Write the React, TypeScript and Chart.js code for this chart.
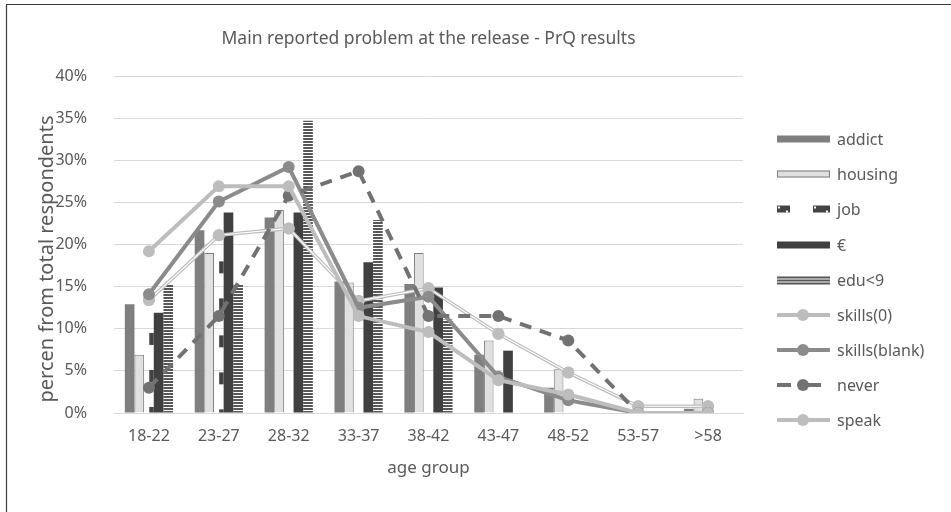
import React, { useEffect, useRef } from 'react';
import { Chart, registerables } from 'chart.js';

Chart.register(...registerables);

const categories = ['18-22', '23-27', '28-32', '33-37', '38-42', '43-47', '48-52', '53-57', '>58'];
const addict = [12.9, 21.7, 23.2, 15.6, 15.3, 6.9, 3.0, 0, 0.5];
const housing = [6.9, 19.0, 24.1, 15.5, 19.0, 8.6, 5.2, 0, 1.7];
const job = [9.5, 18.0, 0, 0, 0, 0, 0, 0, 0];
const euro = [11.9, 23.8, 23.8, 17.9, 14.9, 7.4, 0, 0, 0];
const edu9 = [15.2, 15.2, 34.7, 22.9, 11.1, 0, 0, 0, 0];
const skills0 = [13.4, 21.1, 21.9, 13.3, 14.8, 9.4, 4.8, 0.8, 0.8];
const skillsBlank = [14.1, 25.1, 29.2, 12.5, 13.8, 4.3, 1.5, 0, 0];
const never = [3.0, 11.5, 25.8, 28.7, 11.5, 11.5, 8.6, 0, 0];
const speak = [19.2, 26.9, 26.9, 11.5, 9.6, 3.9, 2.2, 0, 0];

const legendLabels = ['addict', 'housing', 'job', '€', 'edu<9', 'skills(0)', 'skills(blank)', 'never', 'speak'];
const yTicks = [0, 5, 10, 15, 20, 25, 30, 35, 40];

const TITLE = 'Main reported problem at the release - PrQ results';
const Y_TITLE = 'percen from total respondents';
const X_TITLE = 'age group';

const FONT = "'Noto Sans', sans-serif";
const TEXT = '#595959';
const C_ADDICT = '#7f7f7f';
const C_HOUSING = '#e0e0e0';
const C_EURO = '#404040';
const C_STRIPE = '#575757';
const C_LIGHT = '#bdbdbd';
const C_BLANK = '#8b8b8b';
const C_NEVER = '#727272';
const C_JOB = '#444444';

function stripePattern(ctx: CanvasRenderingContext2D) {
  const c = document.createElement('canvas');
  c.width = 4;
  c.height = 3;
  const g = c.getContext('2d')!;
  g.fillStyle = '#ffffff';
  g.fillRect(0, 0, 4, 3);
  g.fillStyle = C_STRIPE;
  g.fillRect(0, 0, 4, 2);
  return ctx.createPattern(c, 'repeat')!;
}

export default function App() {
  const ref = useRef<HTMLCanvasElement | null>(null);

  useEffect(() => {
    const canvas = ref.current!;
    const ctx0 = canvas.getContext('2d')!;
    const stripes = stripePattern(ctx0);

    const JOB_INDEX = 2;
    const SKILLS0_INDEX = 5;

    const decor = {
      id: 'decor',
      afterDatasetDraw(chart: any, args: any) {
        const ctx = chart.ctx as CanvasRenderingContext2D;
        const meta = chart.getDatasetMeta(args.index);
        if (args.index === JOB_INDEX) {
          ctx.save();
          ctx.fillStyle = C_JOB;
          meta.data.forEach((el: any) => {
            const p = el.getProps(['x', 'y', 'base', 'width'], true);
            if (p.base - p.y < 1) return;
            const right = p.x + p.width / 2;
            const w = 4.5;
            for (let t = p.y; t < p.base; t += 37) {
              const h = Math.min(12, p.base - t);
              ctx.fillRect(right - w, t, w, h);
            }
          });
          ctx.restore();
        }
        if (args.index === SKILLS0_INDEX) {
          const pts = meta.data.map((el: any) => el.getProps(['x', 'y'], true));
          ctx.save();
          ctx.strokeStyle = '#ffffff';
          ctx.lineWidth = 1.2;
          ctx.beginPath();
          pts.forEach((p: any, i: number) => (i === 0 ? ctx.moveTo(p.x, p.y) : ctx.lineTo(p.x, p.y)));
          ctx.stroke();
          ctx.fillStyle = C_LIGHT;
          pts.forEach((p: any) => {
            ctx.beginPath();
            ctx.arc(p.x, p.y, 6, 0, Math.PI * 2);
            ctx.fill();
          });
          ctx.restore();
        }
      },
      afterDraw(chart: any) {
        const ctx = chart.ctx as CanvasRenderingContext2D;
        const area = chart.chartArea;
        ctx.save();
        // frame
        ctx.strokeStyle = '#3a3a3a';
        ctx.lineWidth = 1.2;
        ctx.beginPath();
        ctx.moveTo(6.5, 512);
        ctx.lineTo(6.5, 4.5);
        ctx.lineTo(951, 4.5);
        ctx.stroke();

        // title
        ctx.fillStyle = TEXT;
        ctx.textAlign = 'center';
        ctx.textBaseline = 'alphabetic';
        ctx.font = `17.5px ${FONT}`;
        ctx.fillText(TITLE, (area.left + area.right) / 2, 44);

        // x title
        ctx.font = `17px ${FONT}`;
        ctx.fillText(X_TITLE, (area.left + area.right) / 2, 473);

        // y title
        ctx.save();
        ctx.translate(47, 259);
        ctx.rotate(-Math.PI / 2);
        ctx.textBaseline = 'middle';
        ctx.font = `20px ${FONT}`;
        ctx.fillText(Y_TITLE, 0, 0);
        ctx.restore();

        // legend
        const x0 = 777;
        const x1 = 830;
        const tx = 837;
        const rows = [139, 174, 209, 245, 280, 315, 350, 385, 420];
        ctx.font = `16px ${FONT}`;
        ctx.textAlign = 'left';
        ctx.textBaseline = 'middle';
        rows.forEach((ry, i) => {
          ctx.fillStyle = TEXT;
          ctx.fillText(legendLabels[i], tx, ry + 1);
          const h = 7;
          if (i === 0) {
            ctx.fillStyle = C_ADDICT;
            ctx.fillRect(x0, ry - h / 2, x1 - x0, h);
          } else if (i === 1) {
            ctx.fillStyle = C_HOUSING;
            ctx.fillRect(x0, ry - h / 2, x1 - x0, h);
            ctx.strokeStyle = C_ADDICT;
            ctx.lineWidth = 1;
            ctx.strokeRect(x0 + 0.5, ry - h / 2 + 0.5, x1 - x0 - 1, h - 1);
          } else if (i === 2) {
            ctx.fillStyle = C_JOB;
            ctx.fillRect(x0, ry - h / 2, 13, h);
            ctx.fillRect(x1 - 17, ry - h / 2, 17, h);
            ctx.fillStyle = '#ffffff';
            ctx.fillRect(x0 + 1, ry - h / 2 + 1, 2, 2);
            ctx.fillRect(x1 - 16, ry - h / 2 + 1, 2, 2);
            ctx.fillRect(x0 + 9, ry + h / 2 - 2, 2, 2);
            ctx.fillRect(x1 - 4, ry + h / 2 - 2, 2, 2);
          } else if (i === 3) {
            ctx.fillStyle = C_EURO;
            ctx.fillRect(x0, ry - h / 2, x1 - x0, h);
          } else if (i === 4) {
            ctx.fillStyle = C_STRIPE;
            for (let k = 0; k < 3; k++) ctx.fillRect(x0, ry - 3.5 + k * 3, x1 - x0, 2);
          } else {
            const col = i === 6 ? C_BLANK : i === 7 ? C_NEVER : C_LIGHT;
            ctx.strokeStyle = col;
            ctx.fillStyle = col;
            ctx.lineWidth = 4;
            ctx.lineCap = 'butt';
            ctx.beginPath();
            if (i === 7) {
              ctx.moveTo(x0, ry);
              ctx.lineTo(x0 + 14, ry);
              ctx.moveTo(x0 + 31, ry);
              ctx.lineTo(x0 + 44, ry);
            } else {
              ctx.moveTo(x0, ry);
              ctx.lineTo(x1, ry);
            }
            ctx.stroke();
            ctx.beginPath();
            ctx.arc(x0 + 26, ry, 6, 0, Math.PI * 2);
            ctx.fill();
          }
        });
        ctx.restore();
      },
    };

    const barCommon = {
      type: 'bar' as const,
      categoryPercentage: 0.69,
      barPercentage: 1,
      order: 10,
      borderWidth: 0,
    };
    const lineCommon = {
      type: 'line' as const,
      tension: 0,
      fill: false,
      pointRadius: 6,
      pointBorderWidth: 0,
      borderWidth: 4,
    };

    const chart = new Chart(canvas, {
      data: {
        labels: categories,
        datasets: [
          { ...barCommon, label: 'addict', data: addict, backgroundColor: C_ADDICT },
          { ...barCommon, label: 'housing', data: housing, backgroundColor: C_HOUSING, borderColor: C_ADDICT, borderWidth: 1 },
          { ...barCommon, label: 'job', data: job, backgroundColor: 'rgba(255,255,255,0)' },
          { ...barCommon, label: '€', data: euro, backgroundColor: C_EURO },
          { ...barCommon, label: 'edu<9', data: edu9, backgroundColor: stripes },
          { ...lineCommon, label: 'skills(0)', data: skills0, borderColor: C_LIGHT, backgroundColor: C_LIGHT, borderWidth: 3.6, order: 4 },
          { ...lineCommon, label: 'skills(blank)', data: skillsBlank, borderColor: C_BLANK, backgroundColor: C_BLANK, order: 3 },
          { ...lineCommon, label: 'never', data: never, borderColor: C_NEVER, backgroundColor: C_NEVER, borderDash: [12, 9], order: 2 },
          { ...lineCommon, label: 'speak', data: speak, borderColor: C_LIGHT, backgroundColor: C_LIGHT, order: 1 },
        ],
      } as any,
      options: {
        responsive: false,
        animation: false,
        events: [],
        layout: { padding: { top: 76, right: 208, left: 0, bottom: 0 } },
        plugins: {
          legend: { display: false },
          title: { display: false },
          tooltip: { enabled: false },
        },
        scales: {
          x: {
            grid: { display: false, drawTicks: false },
            border: { display: true, color: '#d9d9d9', width: 1 },
            ticks: { color: TEXT, font: { family: FONT, size: 16 }, padding: 14, maxRotation: 0, autoSkip: false },
            afterFit: (s: any) => {
              s.height = 512 - 413;
            },
          },
          y: {
            min: 0,
            max: 40,
            afterBuildTicks: (s: any) => {
              s.ticks = yTicks.map((v) => ({ value: v }));
            },
            grid: { color: '#d9d9d9', drawTicks: false, lineWidth: 1 },
            border: { display: false },
            ticks: {
              color: TEXT,
              font: { family: FONT, size: 16 },
              padding: 27,
              callback: (v: any) => `${v}%`,
            },
            afterFit: (s: any) => {
              s.width = 114;
            },
          },
        },
      } as any,
      plugins: [decor],
    });
    return () => chart.destroy();
  }, []);

  return (
    <div style={{ position: 'fixed', left: 0, top: 0, width: 951, height: 512, background: '#ffffff' }}>
      <canvas ref={ref} width={951} height={512} style={{ display: 'block', width: 951, height: 512 }} />
    </div>
  );
}
